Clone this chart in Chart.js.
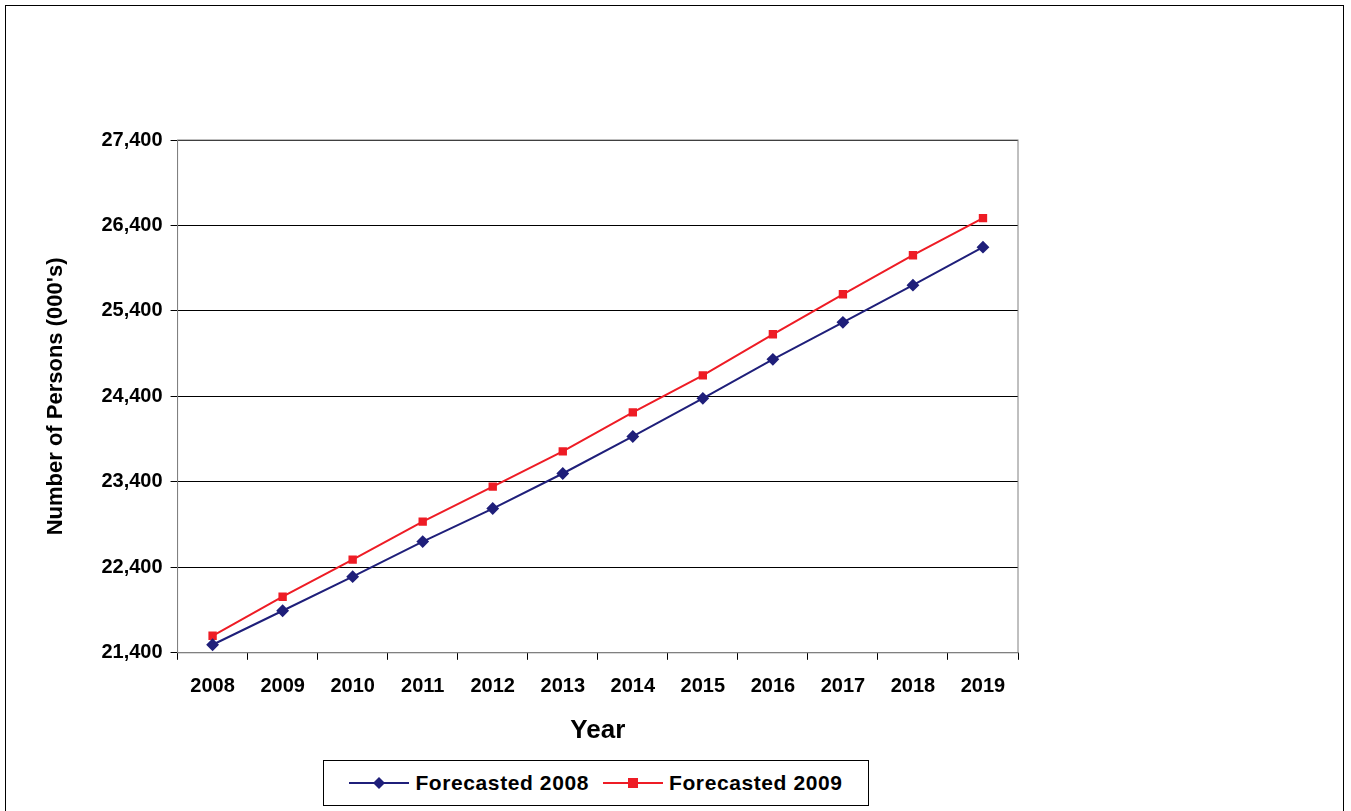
<!DOCTYPE html>
<html>
<head>
<meta charset="utf-8">
<script src="https://cdn.jsdelivr.net/npm/chart.js@4"></script>
<style>
  body { margin: 0; background: #fff; font-family: "Liberation Sans", Arial, sans-serif; }
  #frame { position: absolute; left: 5px; top: 5px; width: 1337px; height: 820px; border: 1px solid #000; }
  #legend { position: absolute; left: 323px; top: 760px; width: 544px; height: 44px; border: 1px solid #000;
    display: flex; align-items: center; justify-content: center; gap: 14px; font-weight: bold; font-size: 21px; letter-spacing: 0.6px; background: #fff; }
  #legend span { display: flex; align-items: center; gap: 6px; }
</style>
</head>
<body>
<div id="frame"></div>
<canvas id="chart" width="1351" height="811" style="position:absolute;left:0;top:0"></canvas>
<div id="legend">
  <span><svg width="60" height="14"><line x1="0" y1="7" x2="60" y2="7" stroke="#1f1f7a" stroke-width="2"/><polygon points="30,1 36,7 30,13 24,7" fill="#1f1f7a"/></svg>Forecasted 2008</span>
  <span><svg width="60" height="14"><line x1="0" y1="7" x2="60" y2="7" stroke="#ee1c25" stroke-width="2"/><rect x="25" y="2" width="10" height="10" fill="#ee1c25"/></svg>Forecasted 2009</span>
</div>
<script>
const years = ["2008", "2009", "2010", "2011", "2012", "2013", "2014", "2015", "2016", "2017", "2018", "2019"];
const forecast2008 = [21494, 21892, 22291, 22701, 23088, 23498, 23931, 24377, 24834, 25267, 25701, 26146];
const forecast2009 = [21599, 22056, 22490, 22935, 23345, 23756, 24213, 24646, 25127, 25595, 26052, 26486];

const bold20 = { family: "'Liberation Sans', Arial", size: 20, weight: "bold" };

new Chart(document.getElementById("chart"), {
  type: "line",
  data: {
    labels: years,
    datasets: [
      { label: "Forecasted 2008", data: forecast2008, borderColor: "#1f1f7a", backgroundColor: "#1f1f7a",
        borderWidth: 2, pointStyle: "rectRot", pointRadius: 5, tension: 0 },
      { label: "Forecasted 2009", data: forecast2009, borderColor: "#ee1c25", backgroundColor: "#ee1c25",
        borderWidth: 2, pointStyle: "rect", pointRadius: 4.5, tension: 0 },
    ],
  },
  options: {
    responsive: false,
    animation: false,
    layout: { padding: { left: 39, right: 333, top: 140, bottom: 61 } },
    plugins: { legend: { display: false }, tooltip: { enabled: false } },
    scales: {
      x: {
        offset: true,
        grid: { offset: true, drawOnChartArea: false, color: "#000", tickLength: 7 },
        border: { color: "#808080" },
        ticks: { color: "#000", font: bold20, padding: 15, maxRotation: 0 },
        title: { display: true, text: "Year", color: "#000", font: { family: "'Liberation Sans', Arial", size: 26, weight: "bold" }, padding: { top: 1 } },
      },
      y: {
        min: 21400, max: 27400,
        grid: { color: "#000", tickLength: 7 },
        border: { color: "#808080" },
        ticks: { stepSize: 1000, color: "#000", font: bold20, padding: 8,
          callback: (v) => v.toLocaleString("en-US") },
        title: { display: true, text: "Number of Persons (000's)", color: "#000", font: { family: "'Liberation Sans', Arial", size: 22, weight: "bold" }, padding: { bottom: 24 } },
      },
    },
  },
  plugins: [{
    id: "plotBorder",
    afterDraw(chart) {
      const a = chart.chartArea, c = chart.ctx;
      c.save(); c.strokeStyle = "#808080"; c.lineWidth = 1;
      c.strokeRect(a.left, a.top, a.right - a.left, a.bottom - a.top);
      c.restore();
    },
  }],
});
</script>
</body>
</html>
